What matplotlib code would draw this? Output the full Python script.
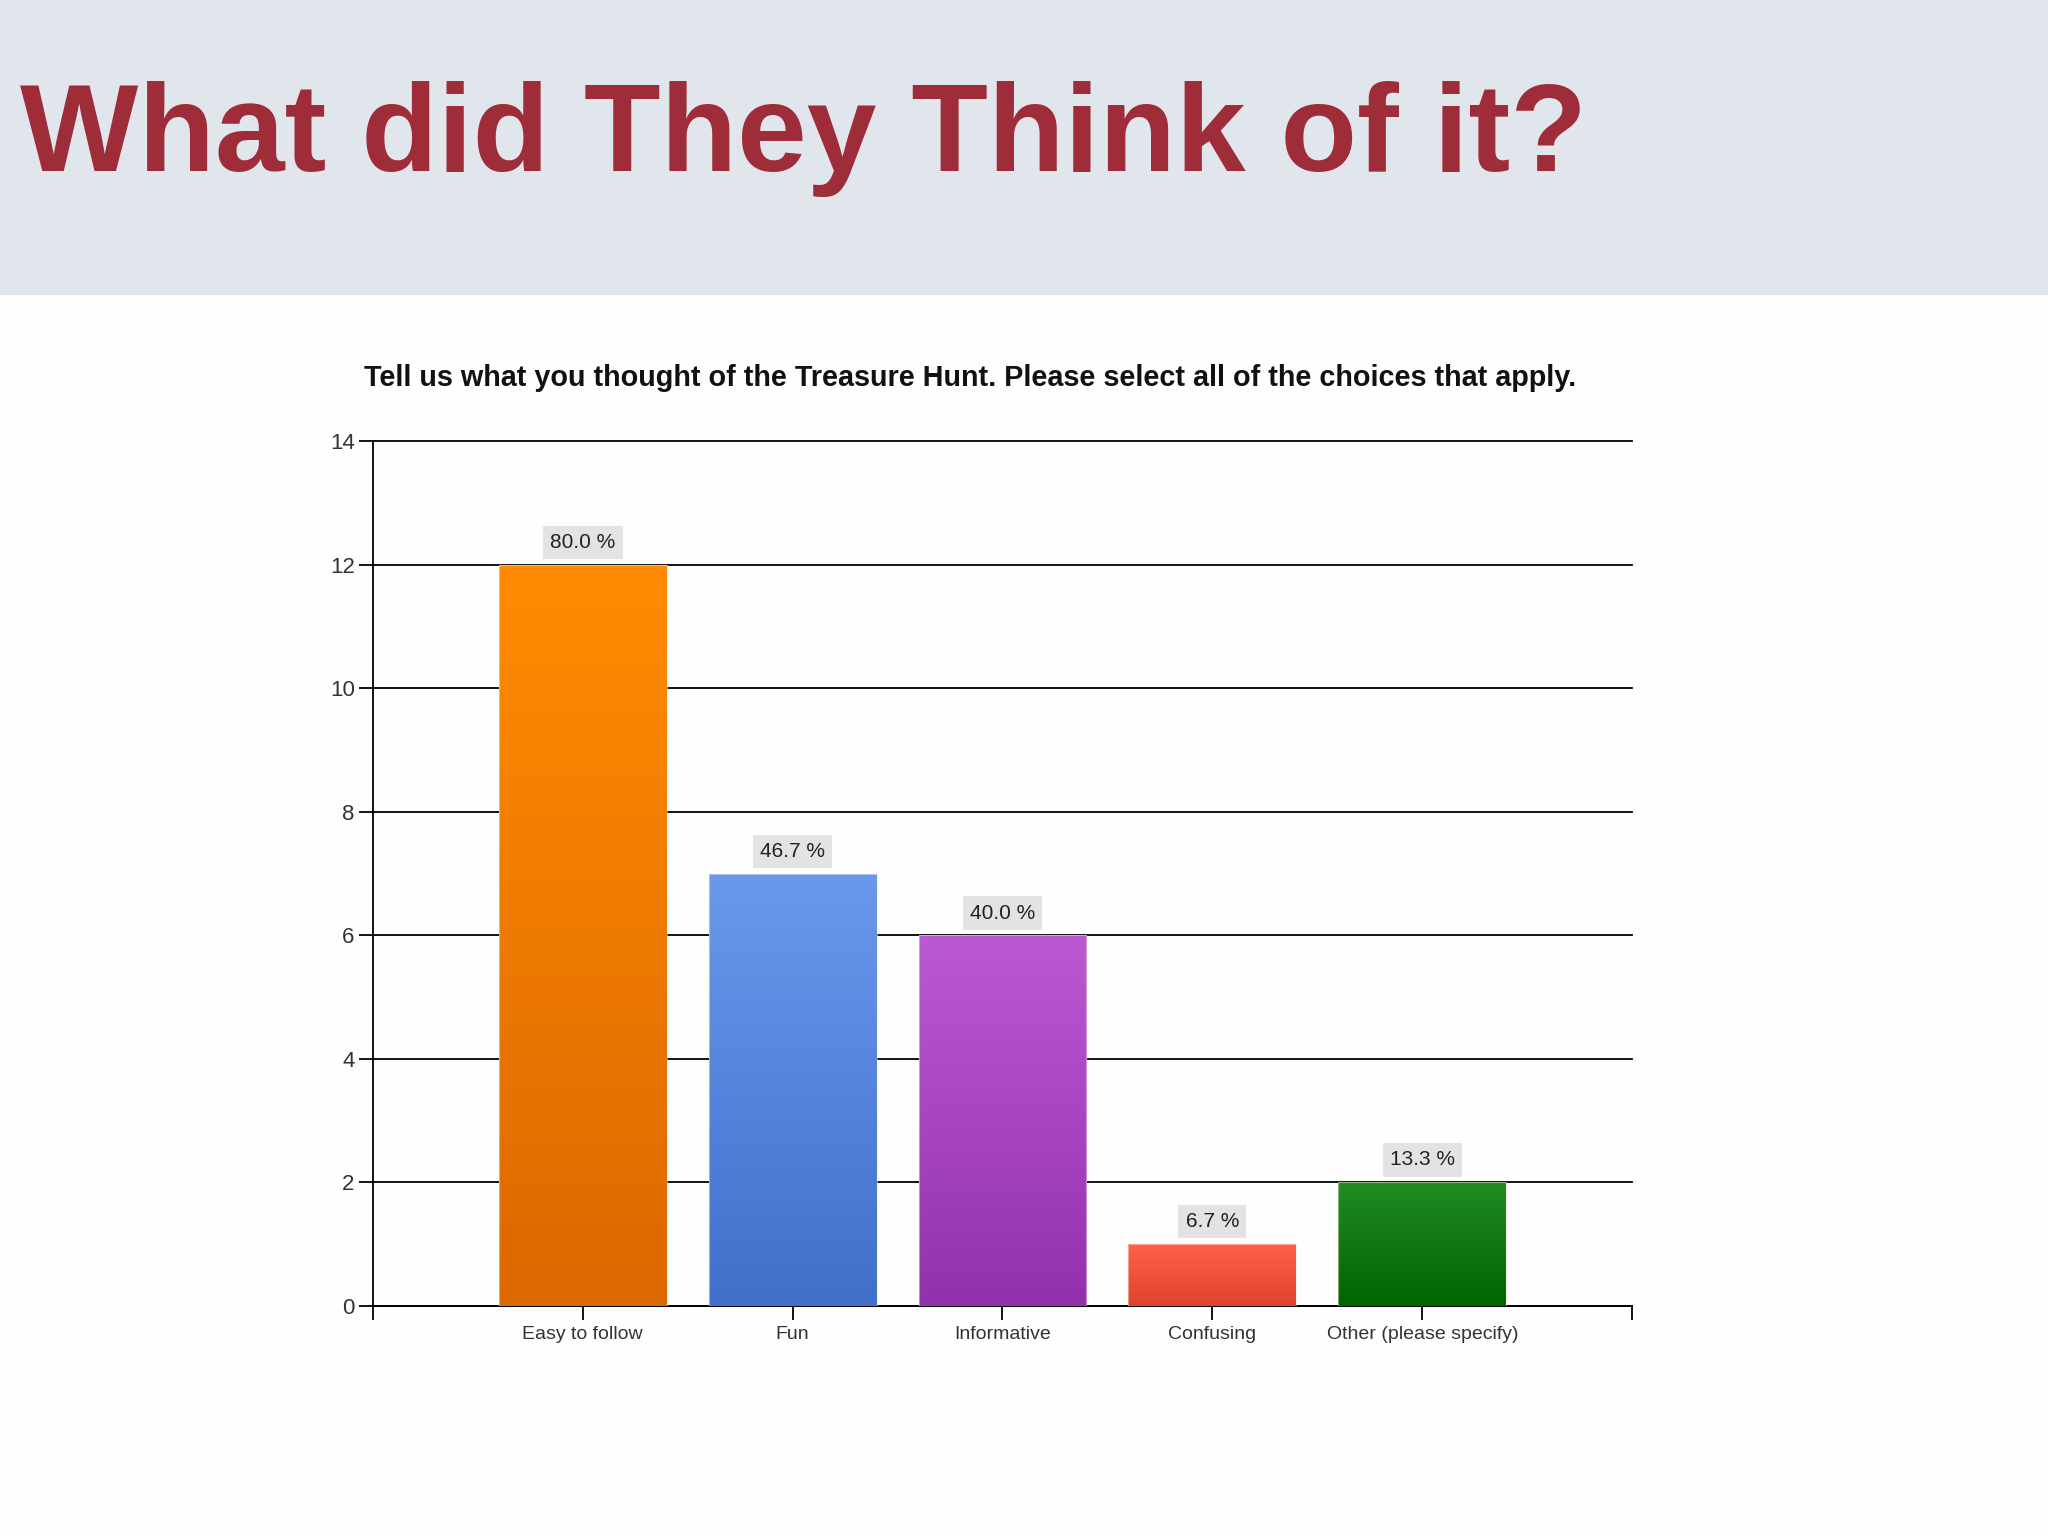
import numpy as np
import matplotlib
matplotlib.use("Agg")
import matplotlib.pyplot as plt
from matplotlib.patches import Rectangle
from matplotlib.colors import LinearSegmentedColormap

# survey answers (count of responses) and the share shown above each bar
categories = ["Easy to follow", "Fun", "Informative", "Confusing", "Other (please specify)"]
counts = [12, 7, 6, 1, 2]
percent_labels = ["80.0 %", "46.7 %", "40.0 %", "6.7 %", "13.3 %"]
y_ticks = [0, 2, 4, 6, 8, 10, 12, 14]

# top / bottom colour of each bar's vertical gradient
bar_tops = ["#FF8C00", "#6A98EC", "#BD58D3", "#FF6148", "#228B22"]
bar_bottoms = ["#DC6800", "#4170CB", "#9331AD", "#E0432B", "#006400"]

plt.rcParams['font.family'] = ['Liberation Sans', 'DejaVu Sans']

fig = plt.figure(figsize=(20.48, 15.36), dpi=100)
fig.patch.set_facecolor('#FEFEFE')

# slide header band
fig.patches.append(Rectangle((0, 0.808), 1, 0.192, transform=fig.transFigure,
                             facecolor='#E1E5EC', edgecolor='none', zorder=0))
fig.text(0.0098, 0.8887, "What did They Think of it?", fontsize=90.3,
         fontweight='bold', color='#9E2C39', va='baseline', ha='left')

fig.text(0.4737, 0.749, "Tell us what you thought of the Treasure Hunt. Please select all of the choices that apply.",
         fontsize=20.7, fontweight='bold', color='#111111', ha='center', va='baseline')

ax = fig.add_axes([0.182, 0.150, 0.615, 0.5626])
ax.set_facecolor('#FEFEFE')

x = np.arange(1, len(categories) + 1)
bars = ax.bar(x, counts, width=0.8, color='none', edgecolor='none', zorder=3)

grad = np.linspace(1, 0, 256).reshape(-1, 1)
for b, top, bot in zip(bars, bar_tops, bar_bottoms):
    cmap = LinearSegmentedColormap.from_list('g', [bot, top])
    x0, y0 = b.get_x(), b.get_y()
    w, h = b.get_width(), b.get_height()
    im = ax.imshow(grad, cmap=cmap, vmin=0, vmax=1, aspect='auto',
                   extent=[x0, x0 + w, y0, y0 + h], zorder=3, interpolation='bilinear')
    im.set_clip_path(b)
    ax.add_patch(Rectangle((x0, y0), w, h, facecolor='none', edgecolor='#F4E8DC',
                           linewidth=0.8, zorder=4, alpha=0.5))

for xi, v, lab in zip(x, counts, percent_labels):
    ax.annotate(lab, (xi, v), xytext=(0, 16), textcoords='offset points',
                ha='center', va='center', fontsize=15, color='#222222',
                bbox=dict(boxstyle='square,pad=0.35', facecolor='#E3E3E3', edgecolor='none'),
                zorder=5)

ax.set_xlim(0, 6)
ax.set_ylim(0, 14)
ax.set_yticks(y_ticks)
ax.set_yticklabels([str(t) for t in y_ticks])
ax.set_xticks(range(0, 7))
ax.set_xticklabels([""] + categories + [""])

ax.grid(axis='y', color='black', linewidth=1.3, zorder=1)
ax.set_axisbelow(True)
for gl in ax.get_ygridlines():
    gl.set_clip_on(False)

for s in ['top', 'right']:
    ax.spines[s].set_visible(False)
for s in ['left', 'bottom']:
    ax.spines[s].set_color('black')
    ax.spines[s].set_linewidth(1.3)

ax.tick_params(axis='y', length=10, width=1.3, pad=3, labelsize=16, labelcolor='#333333')
ax.tick_params(axis='x', length=10, width=1.3, pad=5, labelsize=14, labelcolor='#333333')

fig.savefig("out.png", dpi=100, facecolor=fig.get_facecolor())
